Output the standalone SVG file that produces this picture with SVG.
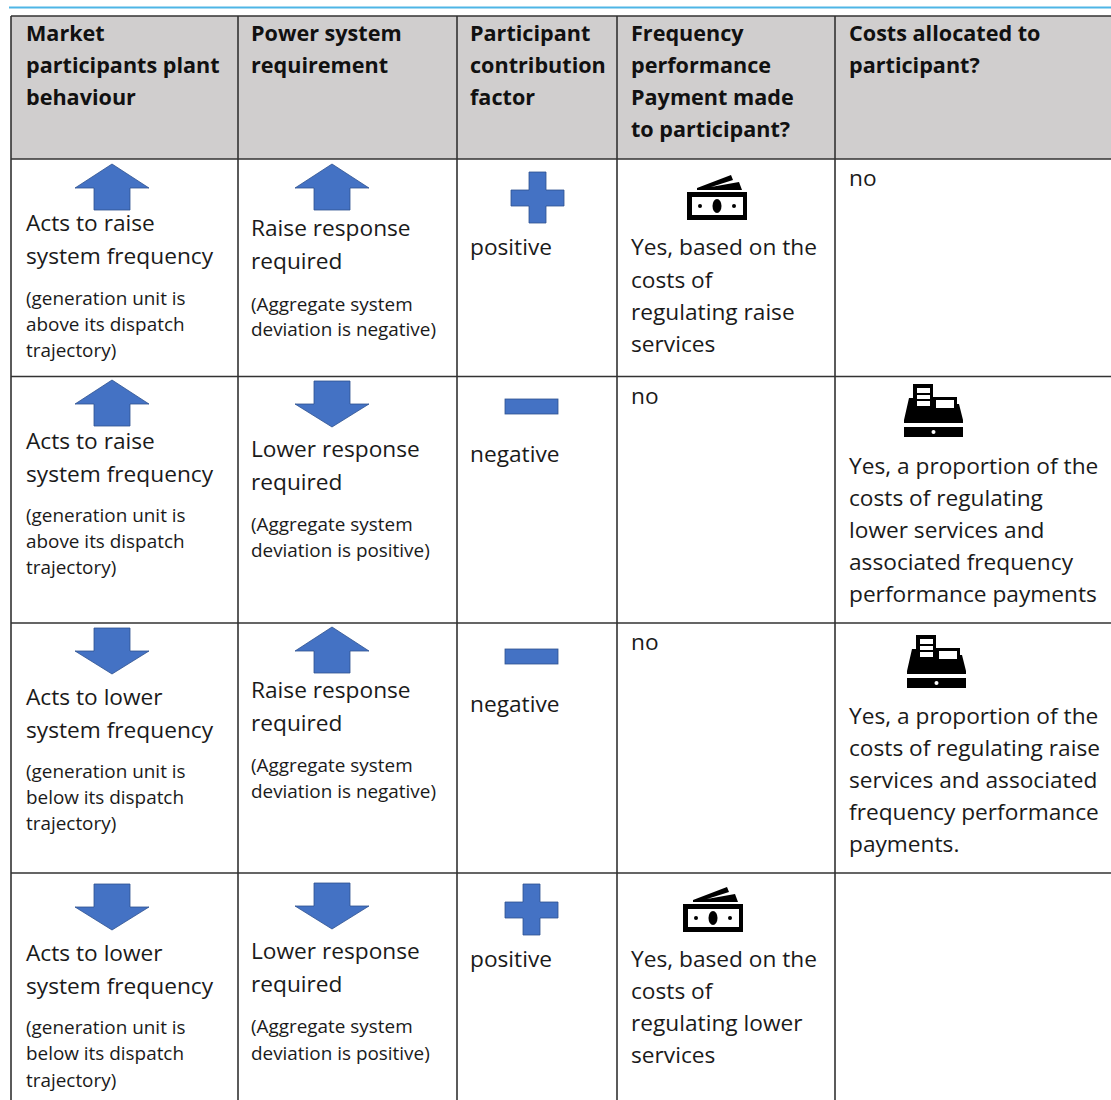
<svg xmlns="http://www.w3.org/2000/svg" width="1111" height="1100" viewBox="0 0 1111 1100">
<style>
text{font-family:"Open Sans","Noto Sans","DejaVu Sans",sans-serif;fill:#1a1a1a}
.h{font-size:21.6px;font-weight:700;fill:#111}
.b{font-size:22.7px}
.s{font-size:18.9px}
.g{stroke:#333;stroke-width:1.6;fill:none}
.sh{fill:#4472c4;stroke:#2f528f;stroke-width:.8}
</style>
<defs>
<polygon id="up" class="sh" points="37,0 74,24 55,24 55,46 19,46 19,24 0,24"/>
<polygon id="down" class="sh" points="19,0 55,0 55,23 74,23 37,46 0,23 19,23"/>
<polygon id="plus" class="sh" points="18,0 35,0 35,18 53,18 53,34 35,34 35,51 18,51 18,34 0,34 0,18 18,18"/>
<rect id="minus" class="sh" width="53" height="15"/>
<g id="money">
<path d="M0,18H60V46H0Z M5,23V41H56V23Z" fill="#000" fill-rule="evenodd"/>
<ellipse cx="30" cy="32" rx="4.500" ry="7" fill="#000"/><circle cx="13" cy="32" r="2" fill="#000"/><circle cx="47" cy="32" r="2" fill="#000"/>
<path d="M10,14L44,1L46,6L24,13L52,8L55,16H10Z" fill="#000"/>
</g>
<g id="till">
<path d="M9,0H29V13H53V20H55L59,36V39H0V36L5,14H9Z" fill="#000"/>
<rect x="13" y="4" width="13" height="5" fill="#fff"/><rect x="13" y="11" width="13" height="4" fill="#fff"/><rect x="13" y="17" width="13" height="5" fill="#fff"/>
<rect x="32" y="16" width="18" height="8" fill="#fff"/>
<path d="M0,43H59V53H0Z" fill="#000"/><circle cx="29.500" cy="48" r="2" fill="#fff"/>
</g>
</defs>
<rect width="1111" height="1100" fill="#fff"/>
<g id="connectors">
<rect x="9" y="6.500" width="1102" height="2" fill="#4fb6e6"/>
<rect id="header-bg" x="11" y="16" width="1100" height="143" fill="#d0cece"/>
<path class="g" d="M11,16H1111M11,159H1111M11,376.500H1111M11,623H1111M11,873H1111M11,16V1100M238,16V1100M457,16V1100M617,16V1100M835,16V1100"/>
</g>
<g id="header">
<text class="h" x="26" y="41">Market</text><text class="h" x="26" y="73">participants plant</text><text class="h" x="26" y="105">behaviour</text>
<text class="h" x="251" y="41">Power system</text><text class="h" x="251" y="73">requirement</text>
<text class="h" x="470" y="41">Participant</text><text class="h" x="470" y="73">contribution</text><text class="h" x="470" y="105">factor</text>
<text class="h" x="631" y="41">Frequency</text><text class="h" x="631" y="73">performance</text><text class="h" x="631" y="105">Payment made</text><text class="h" x="631" y="137">to participant?</text>
<text class="h" x="849" y="41">Costs allocated to</text><text class="h" x="849" y="73">participant?</text>
</g>
<g id="row1">
<use href="#up" x="75" y="164"/>
<text class="b" x="26" y="231">Acts to raise</text><text class="b" x="26" y="264">system frequency</text>
<text class="s" x="26" y="305">(generation unit is</text><text class="s" x="26" y="331">above its dispatch</text><text class="s" x="26" y="357">trajectory)</text>
<use href="#up" x="295" y="164"/>
<text class="b" x="251" y="236">Raise response</text><text class="b" x="251" y="269">required</text>
<text class="s" x="251" y="311">(Aggregate system</text><text class="s" x="251" y="336">deviation is negative)</text>
<use href="#plus" x="511" y="172"/>
<text class="b" x="470" y="255">positive</text>
<use href="#money" x="687" y="174"/>
<text class="b" x="631" y="255">Yes, based on the</text><text class="b" x="631" y="288">costs of</text><text class="b" x="631" y="320">regulating raise</text><text class="b" x="631" y="352">services</text>
<text class="b" x="849" y="186">no</text>
</g>
<g id="row2">
<use href="#up" x="75" y="380"/>
<text class="b" x="26" y="449">Acts to raise</text><text class="b" x="26" y="482">system frequency</text>
<text class="s" x="26" y="522">(generation unit is</text><text class="s" x="26" y="548">above its dispatch</text><text class="s" x="26" y="574">trajectory)</text>
<use href="#down" x="295" y="381"/>
<text class="b" x="251" y="457">Lower response</text><text class="b" x="251" y="490">required</text>
<text class="s" x="251" y="531">(Aggregate system</text><text class="s" x="251" y="557">deviation is positive)</text>
<use href="#minus" x="505" y="399"/>
<text class="b" x="470" y="462">negative</text>
<text class="b" x="631" y="404">no</text>
<use href="#till" x="904" y="384"/>
<text class="b" x="849" y="474">Yes, a proportion of the</text><text class="b" x="849" y="506">costs of regulating</text><text class="b" x="849" y="538">lower services and</text><text class="b" x="849" y="570">associated frequency</text><text class="b" x="849" y="602">performance payments</text>
</g>
<g id="row3">
<use href="#down" x="75" y="628"/>
<text class="b" x="26" y="705">Acts to lower</text><text class="b" x="26" y="738">system frequency</text>
<text class="s" x="26" y="778">(generation unit is</text><text class="s" x="26" y="804">below its dispatch</text><text class="s" x="26" y="830">trajectory)</text>
<use href="#up" x="295" y="627"/>
<text class="b" x="251" y="698">Raise response</text><text class="b" x="251" y="731">required</text>
<text class="s" x="251" y="772">(Aggregate system</text><text class="s" x="251" y="798">deviation is negative)</text>
<use href="#minus" x="505" y="649"/>
<text class="b" x="470" y="712">negative</text>
<text class="b" x="631" y="650">no</text>
<use href="#till" x="907" y="635"/>
<text class="b" x="849" y="724">Yes, a proportion of the</text><text class="b" x="849" y="756">costs of regulating raise</text><text class="b" x="849" y="788">services and associated</text><text class="b" x="849" y="820">frequency performance</text><text class="b" x="849" y="852">payments.</text>
</g>
<g id="row4">
<use href="#down" x="75" y="884"/>
<text class="b" x="26" y="961">Acts to lower</text><text class="b" x="26" y="994">system frequency</text>
<text class="s" x="26" y="1034">(generation unit is</text><text class="s" x="26" y="1060">below its dispatch</text><text class="s" x="26" y="1087">trajectory)</text>
<use href="#down" x="295" y="883"/>
<text class="b" x="251" y="959">Lower response</text><text class="b" x="251" y="992">required</text>
<text class="s" x="251" y="1033">(Aggregate system</text><text class="s" x="251" y="1060">deviation is positive)</text>
<use href="#plus" x="505" y="884"/>
<text class="b" x="470" y="967">positive</text>
<use href="#money" x="683" y="886"/>
<text class="b" x="631" y="967">Yes, based on the</text><text class="b" x="631" y="999">costs of</text><text class="b" x="631" y="1031">regulating lower</text><text class="b" x="631" y="1063">services</text>
</g>
</svg>
